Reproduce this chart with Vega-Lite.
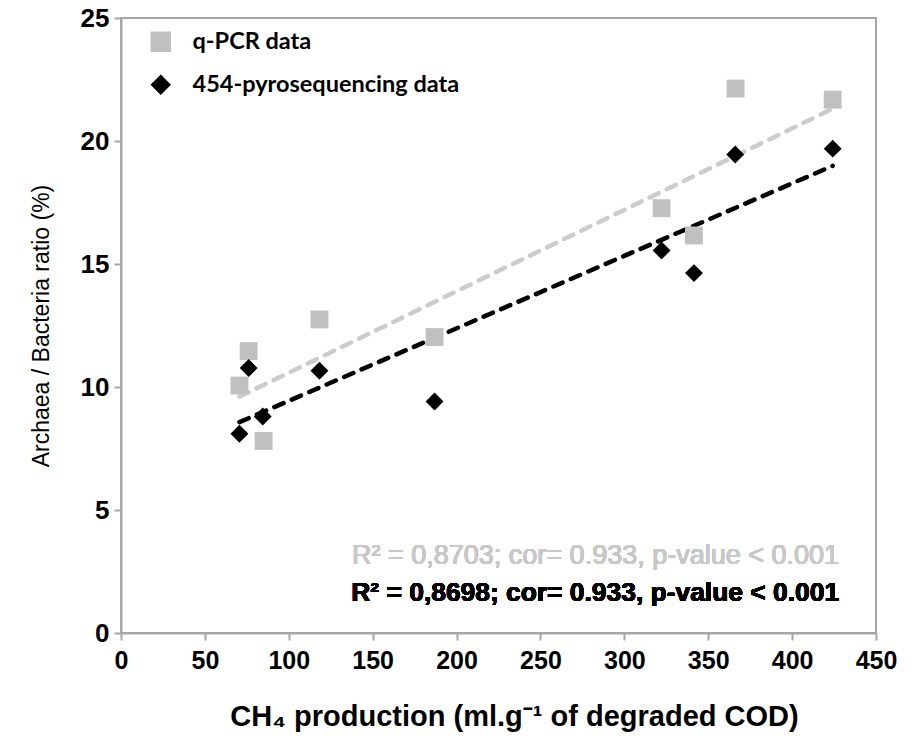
{
  "$schema": "https://vega.github.io/schema/vega-lite/v6.json",
  "width": 755,
  "height": 615,
  "autosize": {"type": "none"},
  "padding": {"left": 121, "top": 18, "right": 41, "bottom": 113},
  "background": "white",
  "config": {
    "view": {"stroke": "#a6a6a6", "strokeWidth": 2},
    "axis": {"grid": false, "domainColor": "#a6a6a6", "domainWidth": 2, "tickColor": "#a6a6a6", "tickWidth": 2, "tickSize": 7, "labelColor": "#000000", "titleColor": "#000000"}
  },
  "data": {
    "values": [
      {"series": "q-PCR data", "x": 70.6, "y": 10.06},
      {"series": "q-PCR data", "x": 76.1, "y": 11.46},
      {"series": "q-PCR data", "x": 85.0, "y": 7.81},
      {"series": "q-PCR data", "x": 118.3, "y": 12.75},
      {"series": "q-PCR data", "x": 186.9, "y": 12.03},
      {"series": "q-PCR data", "x": 322.2, "y": 17.27},
      {"series": "q-PCR data", "x": 341.5, "y": 16.16},
      {"series": "q-PCR data", "x": 366.3, "y": 22.13},
      {"series": "q-PCR data", "x": 424.2, "y": 21.68},
      {"series": "454-pyrosequencing data", "x": 70.6, "y": 8.10},
      {"series": "454-pyrosequencing data", "x": 76.1, "y": 10.77},
      {"series": "454-pyrosequencing data", "x": 84.5, "y": 8.80},
      {"series": "454-pyrosequencing data", "x": 118.3, "y": 10.66},
      {"series": "454-pyrosequencing data", "x": 186.9, "y": 9.41},
      {"series": "454-pyrosequencing data", "x": 322.2, "y": 15.55},
      {"series": "454-pyrosequencing data", "x": 341.5, "y": 14.63},
      {"series": "454-pyrosequencing data", "x": 366.1, "y": 19.45},
      {"series": "454-pyrosequencing data", "x": 424.2, "y": 19.69}
    ]
  },
  "encoding": {
    "x": {"field": "x", "type": "quantitative", "scale": {"domain": [0, 450], "nice": false},
      "axis": {"values": [0, 50, 100, 150, 200, 250, 300, 350, 400, 450], "title": "CH₄ production (ml.g⁻¹ of degraded COD)",
        "labelFlush": false, "labelOverlap": false,
        "labelFont": "Liberation Sans", "labelFontSize": 25, "labelFontWeight": "bold", "labelPadding": 8,
        "titleFont": "Liberation Sans", "titleFontSize": 29, "titleFontWeight": "bold", "titlePadding": 29,
        "titleX": 393, "titleAlign": "center"}},
    "y": {"field": "y", "type": "quantitative", "scale": {"domain": [0, 25], "nice": false},
      "axis": {"values": [0, 5, 10, 15, 20, 25], "title": "Archaea / Bacteria ratio (%)",
        "labelFlush": false,
        "labelFont": "Liberation Sans", "labelFontSize": 26, "labelFontWeight": "bold", "labelPadding": 5,
        "titleFont": "Liberation Sans", "titleFontSize": 23, "titleFontWeight": "normal", "titlePadding": 27}}
  },
  "layer": [
    {
      "transform": [{"filter": "datum.series === 'q-PCR data'"}, {"regression": "y", "on": "x"}],
      "mark": {"type": "line", "color": "#cccccc", "strokeWidth": 4.5, "strokeDash": [10, 9], "strokeCap": "round"},
      "encoding": {"x": {"field": "x", "type": "quantitative"}, "y": {"field": "y", "type": "quantitative"}}
    },
    {
      "transform": [{"filter": "datum.series === '454-pyrosequencing data'"}, {"regression": "y", "on": "x"}],
      "mark": {"type": "line", "color": "#000000", "strokeWidth": 4.5, "strokeDash": [10, 9], "strokeCap": "round"},
      "encoding": {"x": {"field": "x", "type": "quantitative"}, "y": {"field": "y", "type": "quantitative"}}
    },
    {
      "mark": {"type": "point", "filled": true, "opacity": 1, "size": 320},
      "encoding": {
        "color": {"field": "series", "type": "nominal",
          "scale": {"domain": ["q-PCR data", "454-pyrosequencing data"], "range": ["#c0c0c0", "#000000"]},
          "legend": {"title": null, "orient": "none", "legendX": 28, "legendY": 12, "padding": 0,
            "symbolSize": 420, "symbolStrokeWidth": 0, "labelFont": "Lato", "labelFontSize": 23.5, "labelFontWeight": "bold",
            "labelOffset": 20, "rowPadding": 18, "labelLimit": 0,
            "encode": {"labels": {"update": {"fill": {"signal": "datum.label === 'q-PCR data' ? '#c8c8c8' : '#000000'"}}}}}},
        "shape": {"field": "series", "type": "nominal",
          "scale": {"domain": ["q-PCR data", "454-pyrosequencing data"], "range": ["square", "diamond"]}}
      }
    },
    {
      "mark": {"type": "text", "text": "R² = 0,8703; cor= 0.933, p-value < 0.001", "align": "right", "baseline": "middle",
        "font": "Liberation Sans", "fontSize": 27, "color": "#c8c8c8"},
      "encoding": {"x": {"datum": 428}, "y": {"datum": 3.14}}
    },
    {
      "mark": {"type": "text", "text": "R² = 0,8698; cor= 0.933, p-value < 0.001", "align": "right", "baseline": "middle",
        "font": "Liberation Sans", "fontSize": 26.4, "fontWeight": "bold", "color": "#000000"},
      "encoding": {"x": {"datum": 428}, "y": {"datum": 1.64}}
    }
  ]
}
